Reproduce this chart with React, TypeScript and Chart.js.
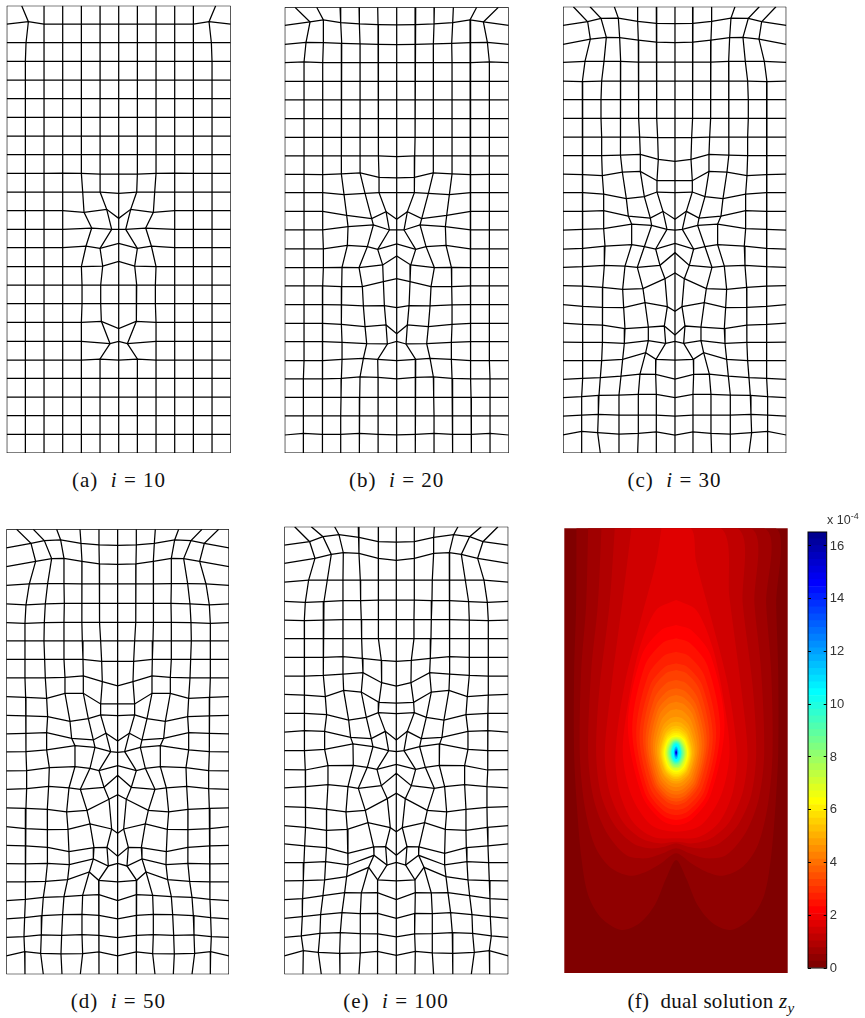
import React, { useEffect, useRef } from "react";
import { Chart, registerables } from "chart.js";
Chart.register(...registerables);

// Mesh nodes, left half (columns 0..6), 25 rows; the right half is the mirror image.
const meshAX = [
[20,65,132,188,244,300,356],[20,85,132,188,244,300,356],[20,78,132,188,244,300,356],[20,76,132,188,244,300,356],[20,76,132,188,244,300,356],
[20,76,132,188,244,300,356],[20,76,132,188,244,300,356],[20,76,132,188,244,300,356],[20,76,132,188,244,300,356],[20,76,132,188,244,300,356],
[20,76,132,188,248,302,356],[20,76,132,188,252,320,356],[20,76,132,188,275,335,356],[20,76,132,188,258,300,356],[20,76,132,188,244,308,356],
[20,76,132,188,246,302,356],[20,76,132,188,246,302,356],[20,76,132,188,244,304,356],[20,76,132,188,244,330,356],[20,76,132,188,244,300,356],
[20,76,132,188,244,300,356],[20,76,132,188,244,300,356],[20,76,132,188,244,300,356],[20,76,132,188,244,300,356],[20,76,132,188,244,300,356]];
const meshAY = [
[17,17,17,17,17,17,17],[72,65,72,72,72,72,72],[128,128,128,128,128,128,128],[184,184,184,184,184,184,184],[240,240,240,240,240,240,240],
[296,296,296,296,296,296,296],[352,352,352,352,352,352,352],[408,408,408,408,408,408,408],[464,464,464,464,464,464,464],[520,520,520,519,520,522,522],
[576,576,576,576,576,576,580],[632,632,632,632,637,628,655],[688,688,688,688,684,688,688],[743,743,743,743,738,745,730],[800,800,800,800,800,798,784],
[855,855,855,855,855,855,855],[911,911,911,911,911,911,911],[967,967,967,967,967,964,986],[1024,1024,1024,1024,1024,1031,1024],[1080,1080,1080,1080,1080,1077,1080],
[1135,1135,1135,1135,1135,1135,1135],[1191,1191,1191,1191,1191,1191,1191],[1247,1247,1247,1247,1247,1247,1247],[1303,1303,1303,1303,1303,1303,1303],[1359,1359,1359,1359,1359,1359,1359]];

const meshBX = [
[14,45,110,180,237,293,350],[14,90,130,182,238,294,350],[14,78,130,185,240,295,350],[14,72,128,184,240,295,350],[14,72,128,184,240,295,350],
[14,72,128,184,240,295,350],[14,72,128,184,240,295,350],[14,72,128,184,240,295,350],[14,72,128,184,240,296,350],[14,72,128,184,241,297,350],
[14,72,128,192,255,297,350],[14,72,128,200,275,318,350],[14,72,128,204,280,328,350],[14,72,130,202,262,293,350],[14,72,130,186,237,308,350],
[14,72,128,185,247,310,350],[14,72,128,184,250,313,350],[14,72,128,184,255,318,350],[14,72,128,186,260,322,350],[14,72,128,186,250,293,350],
[14,70,128,184,240,294,350],[14,70,127,183,239,295,350],[14,70,126,182,238,294,350],[14,70,126,182,238,294,350],[14,70,126,182,238,294,350]];
const meshBY = [
[22,22,22,22,22,22,22],[76,66,60,68,72,74,75],[133,127,128,130,132,133,134],[188,186,188,188,188,188,188],[244,244,244,244,244,244,244],
[300,300,300,300,300,300,300],[356,356,356,356,356,356,356],[412,412,412,412,412,412,412],[468,468,468,468,468,468,470],[523,523,524,522,519,532,534],
[578,578,578,584,580,578,578],[634,634,634,646,656,635,658],[690,690,690,680,675,690,690],[747,747,747,736,740,748,732],[803,803,803,802,803,795,768],
[858,858,858,860,860,845,836],[914,914,914,915,918,917,923],[970,970,970,973,980,975,1001],[1025,1025,1025,1027,1031,1032,1024],[1082,1082,1082,1078,1075,1078,1082],
[1137,1137,1137,1135,1131,1132,1137],[1192,1192,1192,1192,1192,1192,1192],[1248,1248,1248,1248,1248,1248,1248],[1305,1300,1303,1303,1300,1303,1305],[1359,1359,1359,1359,1359,1359,1359]];

const meshCX = [
[24,55,105,178,248,304,360],[24,98,138,190,248,304,360],[24,106,154,194,250,304,360],[24,90,147,197,250,305,360],[24,82,140,196,251,306,360],
[24,82,138,196,251,306,360],[24,82,138,196,252,306,360],[24,82,140,196,254,308,360],[24,82,140,198,256,310,360],[24,84,142,202,256,306,360],
[24,84,146,214,268,306,360],[24,84,146,220,286,324,360],[24,84,146,230,290,336,360],[24,84,150,230,268,302,360],[24,84,148,210,247,315,360],
[24,84,143,203,264,330,360],[24,84,142,206,270,337,360],[24,82,143,210,280,328,360],[24,82,142,208,280,332,360],[24,82,140,203,272,303,360],
[24,82,136,198,255,302,360],[24,80,132,192,250,304,360],[24,80,130,192,250,304,360],[24,80,128,192,250,304,360],[24,80,136,192,248,304,360]];
const meshCY = [
[20,20,20,20,20,20,20],[76,65,55,54,64,70,71],[133,117,112,113,120,126,128],[187,184,184,184,186,186,186],[243,245,243,243,243,243,243],
[299,299,299,299,299,299,299],[355,355,355,355,355,355,355],[411,411,411,411,411,413,413],[467,467,467,465,463,478,484],[522,524,527,516,514,542,542],
[578,578,582,596,590,576,578],[634,634,632,648,654,634,658],[690,688,686,672,676,688,690],[747,745,738,734,740,747,730],[802,800,796,798,802,796,758],
[857,858,862,868,866,836,819],[914,919,922,923,908,920,934],[969,973,975,986,981,978,1005],[1026,1027,1027,1030,1022,1030,1024],[1082,1082,1082,1078,1058,1078,1080],
[1138,1135,1133,1128,1122,1123,1137],[1193,1190,1186,1185,1183,1183,1193],[1248,1245,1243,1245,1245,1245,1248],[1305,1294,1298,1302,1300,1296,1305],[1359,1359,1359,1359,1359,1359,1359]];

const meshDX = [
[19,50,100,170,240,297,353],[19,93,133,182,243,297,353],[19,107,155,192,246,298,353],[19,88,143,192,245,298,353],[19,78,136,193,246,298,353],
[19,75,133,192,246,300,353],[19,75,132,192,247,302,353],[19,75,134,192,249,305,353],[19,75,136,195,250,307,353],[19,77,140,195,250,302,353],
[19,78,143,210,265,302,353],[19,78,140,215,280,318,353],[19,78,140,225,285,332,353],[19,80,148,225,270,297,353],[19,80,146,207,241,312,353],
[19,78,142,200,261,327,353],[19,77,142,204,270,335,353],[19,76,143,207,282,321,353],[19,76,142,208,280,325,353],[19,76,137,203,268,296,353],
[19,76,130,192,248,297,353],[19,74,126,188,246,297,353],[19,72,124,185,246,297,353],[19,74,122,183,248,297,353],[19,75,130,186,241,297,353]];
const meshDY = [
[28,28,28,28,28,28,28],[84,70,62,60,70,75,76],[140,124,116,115,124,132,133],[196,192,191,191,192,192,192],[252,255,252,250,250,250,250],
[308,310,308,307,307,307,307],[363,363,363,363,363,363,363],[418,418,418,418,418,424,424],[474,474,474,472,468,485,498],[530,532,535,520,520,552,552],
[586,588,590,604,596,585,587],[642,640,638,655,660,640,663],[696,695,690,677,682,695,697],[753,752,743,740,745,752,737],[808,806,799,804,808,802,766],
[864,865,868,876,871,838,824],[920,926,929,928,912,927,940],[976,978,982,995,983,982,1009],[1031,1032,1030,1034,1017,1038,1030],[1086,1086,1084,1079,1056,1081,1086],
[1142,1138,1132,1130,1126,1124,1142],[1197,1193,1187,1184,1183,1186,1197],[1252,1250,1245,1246,1244,1246,1253],[1308,1295,1300,1302,1301,1296,1308],[1363,1363,1363,1363,1363,1363,1363]];

const meshEX = [
[19,50,100,170,241,301,355],[19,95,135,183,243,301,355],[19,111,160,196,243,301,355],[19,92,148,195,247,301,355],[19,82,138,195,248,301,355],
[19,79,136,195,250,302,355],[19,79,136,195,251,302,355],[19,79,136,195,253,310,355],[19,79,136,195,255,311,355],[19,79,142,197,250,303,355],
[19,80,146,212,265,301,355],[19,80,140,218,280,322,355],[19,80,140,225,285,332,355],[19,82,150,226,268,297,355],[19,83,150,210,241,310,355],
[19,83,146,204,262,328,355],[19,82,146,208,270,337,355],[19,80,145,210,287,323,355],[19,78,143,210,288,327,355],[19,76,140,206,272,299,355],
[19,74,135,200,250,298,355],[19,73,128,192,247,299,355],[19,70,126,187,247,300,355],[19,76,121,185,247,298,355],[19,75,130,186,243,299,355]];
const meshEY = [
[20,20,20,20,20,20,20],[75,65,50,44,52,65,66],[130,115,103,98,100,115,121],[186,180,180,180,180,180,180],[244,247,245,242,242,240,240],
[300,302,300,299,299,299,299],[356,356,356,356,356,356,356],[412,412,412,410,415,421,424],[468,468,466,462,458,488,498],[523,525,530,511,516,547,549],
[580,580,584,600,592,578,581],[636,632,634,652,656,634,660],[692,692,688,672,680,692,695],[749,750,737,736,742,748,733],[804,800,794,800,805,797,760],
[860,862,868,876,871,836,820],[917,922,931,928,908,923,935],[972,978,983,1000,981,980,1006],[1028,1028,1025,1035,1006,1035,1027],[1083,1082,1080,1070,1042,1080,1083],
[1139,1136,1127,1118,1119,1118,1139],[1195,1190,1184,1178,1181,1180,1195],[1252,1248,1240,1238,1241,1242,1251],[1308,1292,1297,1300,1299,1294,1306],[1363,1363,1363,1363,1363,1363,1363]];

// Filled contour bands of panel (f): colormap level, then half outline as [distance from the axis, y]
const contourLevels = [0,1,2,3,4,5,6,7,8,9,10,11,12,13,14,15,16,17,18,19,20,21,22,23,24,26,28,30,32,34,36,38,40,44,48,52,56,60,62];
const contourHalves = [
[[340,60],[340,1410],[0,1410]],
[[299,70],[300,300],[306,500],[306,745],[298,900],[284,1060],[264,1170],[224,1240],[164,1275],[110,1255],[64,1200],[30,1120],[0,1065]],
[[264,70],[270,300],[285,500],[289,745],[275,900],[245,1020],[200,1085],[140,1112],[90,1100],[45,1075],[0,1045]],
[[224,70],[235,300],[255,500],[264,745],[248,880],[210,980],[150,1050],[90,1060],[40,1045],[0,1030]],
[[184,70],[200,300],[230,550],[240,745],[225,870],[185,960],[130,1015],[80,1030],[35,1025],[0,1015]],
[[134,70],[160,280],[195,550],[214,745],[200,860],[160,950],[105,1000],[50,1015],[0,1010]],
[[44,70],[60,170],[105,340],[155,540],[182,745],[170,860],[130,950],[70,995],[0,1000]],
[[0,285],[60,315],[110,430],[145,600],[160,745],[135,870],[75,960],[0,980]],
[[0,360],[45,375],[103,450],[145,660],[103,870],[45,945],[0,960]],
[[0,400],[41,414],[94,482],[132,672],[94,863],[41,931],[0,945]],
[[0,440],[37,452],[85,513],[120,685],[85,857],[37,918],[0,930]],
[[0,475],[34,486],[78,541],[110,695],[78,849],[34,904],[0,915]],
[[0,495],[31,505],[71,556],[100,697],[71,838],[31,889],[0,900]],
[[0,525],[29,534],[65,580],[92,707],[65,834],[29,880],[0,890]],
[[0,550],[26,558],[60,600],[85,715],[60,830],[26,872],[0,880]],
[[0,570],[24,578],[55,615],[77,720],[55,825],[24,862],[0,869]],
[[0,590],[22,597],[50,630],[70,724],[50,818],[22,851],[0,858]],
[[0,612],[20,618],[45,647],[64,730],[45,813],[20,841],[0,847]],
[[0,635],[18,640],[41,665],[58,735],[41,805],[18,831],[0,836]],
[[0,650],[16,654],[38,677],[53,740],[38,803],[16,825],[0,829]],
[[0,662],[15,666],[34,686],[48,742],[34,798],[15,818],[0,822]],
[[0,670],[14,674],[32,691],[45,743],[32,795],[14,813],[0,817]],
[[0,678],[13,681],[30,698],[42,745],[30,792],[13,809],[0,812]],
[[0,684],[12,687],[28,702],[39,745],[28,788],[12,804],[0,807]],
[[0,690],[11,693],[26,706],[36,745],[26,784],[11,799],[0,802]],
[[0,695],[15,699],[27,716],[33,745],[26,775],[15,791],[0,797]],
[[0,700],[13,704],[24,720],[29,744],[23,768],[13,785],[0,790]],
[[0,703],[11,707],[21,722],[26,744],[21,766],[11,782],[0,786]],
[[0,706],[10,710],[19,724],[23,743],[19,763],[10,777],[0,781]],
[[0,708],[9,712],[16,726],[20,743],[16,761],[9,773],[0,777]],
[[0,711],[8,714],[14,728],[17,743],[14,759],[8,770],[0,774]],
[[0,713],[7,717],[13,730],[15,743],[13,757],[7,768],[0,771]],
[[0,716],[6,720],[11,731],[13,743],[11,756],[6,766],[0,769]],
[[0,724],[4,728],[6,735],[7,743],[6,751],[4,758],[0,762]],
[[0,730],[2.5,733],[4,738],[4.5,743],[4,748],[2.5,753],[0,756]],
[[0,734],[2,737],[3,743],[2,749],[0,752]],
[[0,737],[1.5,739],[2,743],[1.5,747],[0,749]],
[[0,739],[1,741],[1.5,743],[1,745],[0,747]],
[[0,741],[0.6,742],[1,743],[0.6,744],[0,745]],
];

const colorbarMax = 16.53;
const colorbarTicks = [0,2,4,6,8,10,12,14,16];
const colorbarLevels = Array.from({ length: 64 }, (_, k) => k);

const captions = [
  { tag: "(a)", v: "i", val: "10", cx: 119, cy: 480 },
  { tag: "(b)", v: "i", val: "20", cx: 396.7, cy: 480 },
  { tag: "(c)", v: "i", val: "30", cx: 674.5, cy: 480 },
  { tag: "(d)", v: "i", val: "50", cx: 118.3, cy: 1001 },
  { tag: "(e)", v: "i", val: "100", cx: 396, cy: 1001 },
];

const meshPanels = [
  { xs: meshAX, ys: meshAY, frame: [6.7, 5.7, 230.7, 453], dom: [20, 692, 17, 1359] },
  { xs: meshBX, ys: meshBY, frame: [284.7, 7.3, 508.7, 453], dom: [14, 686, 22, 1359] },
  { xs: meshCX, ys: meshCY, frame: [563, 6.7, 786.3, 453], dom: [24, 694, 20, 1359] },
  { xs: meshDX, ys: meshDY, frame: [6.3, 529.3, 229, 974.3], dom: [19, 687, 28, 1363] },
  { xs: meshEX, ys: meshEY, frame: [284.3, 526.7, 508.3, 974.3], dom: [19, 691, 20, 1363] },
];
const contourFrame = [564.3, 528.3, 787.7, 973];
const contourDom = [28, 698, 70, 1404];
const contourAxis = 363.5;

function jet(k: number) {
  const c = (v: number) => Math.max(0, Math.min(255, Math.round(v)));
  if (k <= 8) return `rgb(${c(128 + 16 * k)},0,0)`;
  if (k <= 24) return `rgb(255,${c((k - 8) * 16)},0)`;
  if (k <= 40) return `rgb(${c(255 - (k - 24) * 16)},255,${c((k - 24) * 16)})`;
  if (k <= 56) return `rgb(0,${c(255 - (k - 40) * 16)},255)`;
  return `rgb(0,0,${c(255 - (k - 56) * 16)})`;
}

function box(frame: number[]) {
  const left = Math.floor(frame[0]) - 1;
  const top = Math.floor(frame[1]) - 1;
  const right = Math.ceil(frame[2]) + 1;
  const bottom = Math.ceil(frame[3]) + 1;
  return {
    left, top, width: right - left, height: bottom - top,
    padding: { left: frame[0] - left, top: frame[1] - top, right: right - frame[2], bottom: bottom - frame[3] },
  };
}

function scalesFor(dom: number[]) {
  return {
    x: { type: "linear", display: false, min: dom[0], max: dom[1] },
    y: { type: "linear", display: false, min: dom[2], max: dom[3], reverse: true },
  };
}

function meshDatasets(xs: number[][], ys: number[][], dom: number[]) {
  const mx = dom[0] + dom[1];
  const full = xs.map((row, r) => {
    const left = row.map((x, c) => ({ x, y: ys[r][c] }));
    const right = row.slice(0, 6).reverse().map((x, i) => ({ x: mx - x, y: ys[r][5 - i] }));
    return [...left, ...right];
  });
  const base = { showLine: true, pointRadius: 0, borderColor: "#000", borderWidth: 1.25, tension: 0, fill: false };
  const sets: any[] = full.map((data) => ({ ...base, data }));
  for (let c = 0; c < 13; c++) sets.push({ ...base, data: full.map((row) => row[c]) });
  return sets;
}

function contourDatasets() {
  const sets = contourLevels.map((k, i) => {
    const half = contourHalves[i];
    const left = half.map(([d, y]) => ({ x: contourAxis - d, y }));
    const right = half.slice().reverse().filter(([d]) => d > 0).map(([d, y]) => ({ x: contourAxis + d, y }));
    const data = [...left, ...right];
    data.push(data[0]);
    return { data, showLine: true, pointRadius: 0, borderWidth: 0, tension: i === 0 ? 0 : 0.3, fill: "shape", backgroundColor: jet(k), borderColor: jet(k) };
  });
  return sets.reverse();
}

const frameStroke = {
  id: "frameStroke",
  afterDraw(chart: any) {
    const { ctx, chartArea: a } = chart;
    ctx.save();
    ctx.strokeStyle = "#000";
    ctx.lineWidth = 1;
    ctx.strokeRect(a.left, a.top, a.right - a.left, a.bottom - a.top);
    ctx.restore();
  },
};

const serif = '"Liberation Serif", serif';
const captionStyle = (cx: number, cy: number, spacing: number): React.CSSProperties => ({
  position: "absolute", left: cx, top: cy - 12, lineHeight: "24px", transform: "translateX(-50%)",
  whiteSpace: "nowrap", fontFamily: serif, fontSize: 21, letterSpacing: spacing, color: "#111",
});

export default function App() {
  const refs = useRef<(HTMLCanvasElement | null)[]>([]);
  useEffect(() => {
    const charts: Chart[] = [];
    const base = { animation: false, responsive: false, plugins: { legend: { display: false }, tooltip: { enabled: false } } };
    meshPanels.forEach((p, i) => {
      charts.push(new Chart(refs.current[i]!, {
        type: "scatter",
        data: { datasets: meshDatasets(p.xs, p.ys, p.dom) },
        options: { ...base, layout: { padding: box(p.frame).padding }, scales: scalesFor(p.dom) } as any,
      }));
    });
    charts.push(new Chart(refs.current[5]!, {
      type: "scatter",
      data: { datasets: contourDatasets() as any },
      options: { ...base, layout: { padding: box(contourFrame).padding }, scales: scalesFor(contourDom) } as any,
    }));
    charts.push(new Chart(refs.current[6]!, {
      type: "bar",
      data: {
        labels: ["z"],
        datasets: colorbarLevels.map((k) => ({
          data: [colorbarMax / 64], backgroundColor: jet(k), borderWidth: 0,
          barPercentage: 1, categoryPercentage: 1, stack: "s",
        })),
      },
      options: {
        ...base,
        layout: { padding: { left: 1, top: 12, bottom: 12, right: 0 } },
        scales: {
          x: { display: false, stacked: true },
          y: {
            position: "right", stacked: true, min: 0, max: colorbarMax,
            afterFit: (s: any) => { s.width = 38.3; },
            afterBuildTicks: (s: any) => { s.ticks = colorbarTicks.map((value) => ({ value })); },
            ticks: { padding: 3, color: "#333", font: { family: '"Liberation Sans"', size: 13 }, autoSkip: false, includeBounds: false },
            border: { display: false, dash: [3, 12.7] },
            grid: { drawTicks: false, color: "#000", z: 1, lineWidth: 1 },
          },
        },
      } as any,
      plugins: [frameStroke],
    }));
    return () => charts.forEach((c) => c.destroy());
  }, []);

  const frames = [...meshPanels.map((p) => p.frame), contourFrame];
  return (
    <div style={{ position: "absolute", left: 0, top: 0, width: 865, height: 1018, background: "#fff", overflow: "hidden" }}>
      {frames.map((f, i) => {
        const b = box(f);
        return (
          <canvas key={i} ref={(el) => { refs.current[i] = el; }} width={b.width} height={b.height}
            style={{ position: "absolute", left: b.left, top: b.top, width: b.width, height: b.height }} />
        );
      })}
      <canvas ref={(el) => { refs.current[6] = el; }} width={58} height={460}
        style={{ position: "absolute", left: 807, top: 520, width: 58, height: 460 }} />
      {captions.map((c) => (
        <div key={c.tag} style={captionStyle(c.cx, c.cy, 1)}>
          {c.tag}&nbsp;&nbsp;<i>{c.v}</i>&nbsp;=&nbsp;{c.val}
        </div>
      ))}
      <div style={captionStyle(711, 1001, 0.3)}>
        (f)&nbsp;&nbsp;dual solution <i>z</i><sub style={{ fontSize: 15, lineHeight: 0 }}><i>y</i></sub>
      </div>
      <div style={{ position: "absolute", left: 827, top: 513, fontFamily: '"Liberation Sans"', fontSize: 12.5, color: "#333", whiteSpace: "nowrap" }}>
        x 10<sup style={{ fontSize: 9, lineHeight: 0 }}>-4</sup>
      </div>
    </div>
  );
}
